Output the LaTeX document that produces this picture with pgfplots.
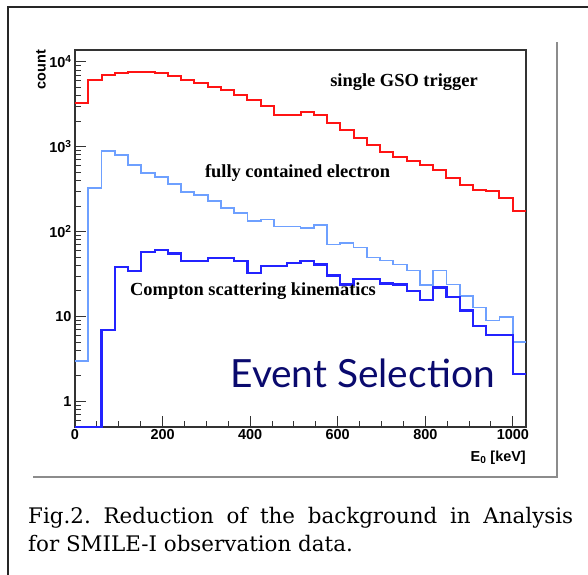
\documentclass[border=0pt]{standalone}
\usepackage{fontspec}
\setsansfont{Liberation Sans}
\newfontfamily\annfont{Liberation Serif}
\newfontfamily\evfont{Lato}
\newfontfamily\capfont{DejaVu Serif}
\usepackage{pgfplots}
\pgfplotsset{compat=1.18}
\definecolor{rootred}{RGB}{255,20,20}
\definecolor{lightb}{RGB}{110,160,255}
\definecolor{darkb}{RGB}{35,35,255}
\definecolor{navy}{RGB}{10,10,110}
\begin{document}
\begin{tikzpicture}[x=1bp,y=1bp]
\useasboundingbox (0,0) rectangle (588,575);
% outer frame
\draw[line width=1.5bp, black!85] (8,0) -- (8,568) -- (588,568);
% inner figure shadow border
\draw[line width=1.2bp, black!45] (33,98) -- (557,98) -- (557,533);
\begin{axis}[
  at={(75bp,148bp)}, anchor=south west, scale only axis,
  width=451bp, height=377bp,
  xmin=0, xmax=1030, ymode=log, ymin=0.5, ymax=13800,
  clip=false,
  axis line style={line width=1.3bp, black!80},
  tick pos=left, tick align=inside,
  xtick={0,200,400,600,800,1000},
  xticklabels={0,200,400,600,800,1000},
  minor x tick num=3,
  ytick={1,10,100,1000,10000},
  yticklabels={1,10,10\textsuperscript{2},10\textsuperscript{3},10\textsuperscript{4}},
  minor ytick={0.6,0.7,0.8,0.9,2,3,4,5,6,7,8,9,20,30,40,50,60,70,80,90,200,300,400,500,600,700,800,900,2000,3000,4000,5000,6000,7000,8000,9000},
  major tick length=11bp, minor tick length=6bp,
  every tick/.style={black!80, line width=1bp},
  tick label style={font=\sffamily\bfseries\fontsize{14.5}{14.5}\selectfont},
  xticklabel style={yshift=1bp},
]
\addplot[const plot, rootred, line width=2bp] coordinates {
(0,3260) (30.3,6130) (60.6,7020) (90.9,7350) (121.2,7550) (151.5,7550) (181.8,7470) (212.1,6830) (242.4,6130) (272.6,5600) (302.9,5110) (333.2,4680) (363.5,4080) (393.8,3570) (424.1,3030) (454.4,2380) (484.7,2380) (515.0,2600) (545.3,2380) (575.6,1900) (605.9,1585) (636.2,1265) (666.5,1040) (696.8,874) (727.1,763) (757.4,685) (787.6,615) (817.9,537) (848.2,432) (878.5,357) (908.8,313) (939.1,298) (969.4,252) (999.7,174) (1030,174)
};
\addplot[const plot, lightb, line width=1.8bp] coordinates {
(0,3.0) (30.3,330) (60.6,885) (90.9,795) (121.2,615) (151.5,491) (181.8,438) (212.1,367) (242.4,296) (272.6,269) (302.9,228) (333.2,192) (363.5,166) (393.8,133) (424.1,139) (454.4,115) (484.7,115) (515.0,111) (545.3,121) (575.6,70.5) (605.9,73.9) (636.2,65) (666.5,49.6) (696.8,45.8) (727.1,41.1) (757.4,34.9) (787.6,23.3) (817.9,34.9) (848.2,23.9) (878.5,17.3) (908.8,12.8) (939.1,9.0) (969.4,9.8) (999.7,4.98) (1030,4.98)
};
\addplot[const plot, darkb, line width=2.2bp] coordinates {
(0,0.5) (30.3,0.5) (60.6,6.94) (90.9,38.6) (121.2,34.2) (151.5,57.3) (181.8,60.4) (212.1,55.3) (242.4,44.9) (272.6,44.9) (302.9,49.2) (333.2,49.2) (363.5,44.9) (393.8,32.8) (424.1,39.2) (454.4,39.2) (484.7,43.0) (515.0,44.9) (545.3,41.1) (575.6,30.5) (605.9,23.9) (636.2,27.4) (666.5,27.4) (696.8,24.5) (727.1,23.9) (757.4,19.8) (787.6,15.5) (817.9,22.0) (848.2,17.0) (878.5,11.8) (908.8,7.67) (939.1,6.09) (969.4,6.09) (999.7,2.09) (1030,2.09)
};
\end{axis}
% axis titles
\node[rotate=90, anchor=east, font=\sffamily\bfseries\fontsize{14.5}{14.5}\selectfont, inner sep=0] at (41,525) {count};
\node[anchor=east, font=\sffamily\bfseries\fontsize{14.5}{14.5}\selectfont, inner sep=0] at (526,117) {E\textsubscript{0} [keV]};
% annotations
\node[font=\annfont\bfseries\fontsize{18.5}{20}\selectfont, inner sep=0] at (404,493) {single GSO trigger};
\node[font=\annfont\bfseries\fontsize{18.5}{20}\selectfont, inner sep=0] at (297.5,402) {fully contained electron};
\node[font=\annfont\bfseries\fontsize{18.5}{20}\selectfont, inner sep=0] at (253,284) {Compton scattering kinematics};
\node[anchor=base, font=\evfont\fontsize{39}{40}\selectfont, text=navy, inner sep=0] at (362.5,187) {Event Selection};
% caption
\node[anchor=base west, inner sep=0] at (28,51) {\parbox[t]{545bp}{\frenchspacing\capfont\fontsize{21.5}{28}\selectfont Fig.2. Reduction of the background in Analysis\linebreak for SMILE-I observation data.}};
\end{tikzpicture}
\end{document}
